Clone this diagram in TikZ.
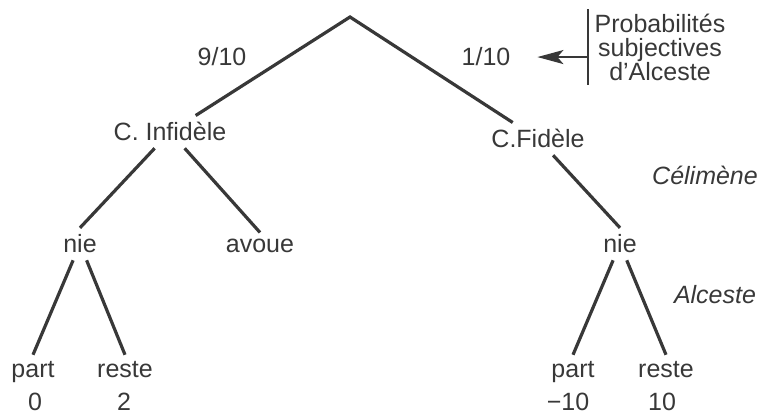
\documentclass[tikz,border=0pt]{standalone}
\usepackage{fontspec}
\setmainfont{Liberation Sans}
\usetikzlibrary{positioning,arrows.meta}
\definecolor{ink}{gray}{0.22}

\begin{document}
\begin{tikzpicture}[
      x=0.5pt, y=-0.5pt,
      every node/.style={font=\fontsize{12.5}{12}\selectfont, text=ink, align=center},
      lbl/.style={anchor=base},
      who/.style={anchor=base, font=\fontsize{12.5}{12}\selectfont\itshape},
      branch/.style={draw=ink, line width=1.6pt},
      bar/.style={draw=ink, line width=1.1pt},
      arrow/.style={-{Stealth[length=13pt, width=7pt, inset=3pt]}, draw=ink, line width=1.1pt},
  ]
    \useasboundingbox (0,0) rectangle (764,415);

    % Level 0: chance move
    \coordinate (root) at (350,17);
    \node[lbl] (p9) at (222,66) {9/10};
    \node[lbl] (p1) at (486,66) {1/10};

    % Level 1: Célimène
    \node[lbl] (inf) at (170,141) {C. Infidèle};
    \node[lbl] (fid) at (538,148) {C.Fidèle};
    \draw[branch] (inf) -- (root) -- (fid);
    \node[who] (celi) at (705,185) {Célimène};

    % Level 2: answers
    \node[lbl] (nieL) at (80,253) {nie};
    \node[lbl] (avoue) at (260,253) {avoue};
    \node[lbl] (nieR) at (620,253) {nie};
    \draw[branch] (inf) -- (nieL.north);
    \draw[branch] (inf) -- (avoue.north);
    \draw[branch] (fid) -- (nieR.north);
    \node[who] (alc) at (715,304) {Alceste};

    % Level 3: Alceste's moves and payoffs
    \node[lbl] (partL) at (33,378) {part};
    \node[lbl] (resteL) at (125,378) {reste};
    \node[lbl] (partR) at (573,378) {part};
    \node[lbl] (resteR) at (666,378) {reste};
    \draw[branch] (nieL) -- (partL.north);
    \draw[branch] (nieL) -- (resteL.north);
    \draw[branch] (nieR) -- (partR.north);
    \draw[branch] (nieR) -- (resteR.north);
    \node[lbl] (v1) at (35,411) {0};
    \node[lbl] (v2) at (124,411) {2};
    \node[lbl] (v3) at (568,411) {−10};
    \node[lbl] (v4) at (662,411) {10};

    % Note on the probabilities
    \node[inner ysep=2pt] (prob) at (660,47) {Probabilités\\subjectives\\d'Alceste};
    \draw[bar] (prob.north west) -- (prob.south west);
    \draw[arrow, shorten >=10pt] (prob.west |- p1) -- (p1);
  \end{tikzpicture}
\end{document}
